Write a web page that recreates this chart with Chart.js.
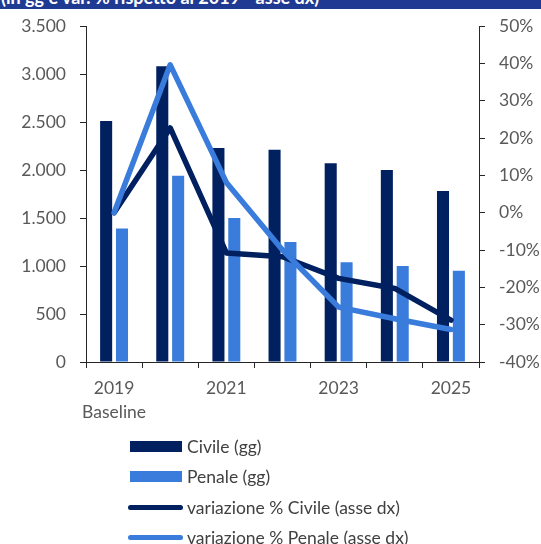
<!DOCTYPE html>
<html>
<head>
<meta charset="utf-8">
<script src="https://cdn.jsdelivr.net/npm/chart.js@4.4.1/dist/chart.umd.min.js"></script>
<style>
  html, body { margin: 0; padding: 0; background: #fff; }
  #wrap { position: relative; width: 541px; height: 544px; overflow: hidden; }
  #band { position: absolute; left: 0; top: 0; width: 541px; height: 9px; background: #1f3a93; overflow: hidden; }
  #band span { position: absolute; left: 1px; top: -12px; font: bold 18px Lato, sans-serif; line-height: 18px; color: #fff; white-space: nowrap; }
  #legend { position: absolute; left: 128px; top: 431px; font: 17.5px Lato, sans-serif; color: #404040; }
  .row { height: 30.5px; display: flex; align-items: center; white-space: nowrap; }
  .sw { width: 55px; display: flex; align-items: center; margin-right: 4px; }
  .box { width: 52px; height: 11px; margin-left: 2px; }
  .ln { width: 55px; height: 5px; border-radius: 3px; }
</style>
</head>
<body>
<div id="wrap">
  <canvas id="c" width="541" height="544"></canvas>
  <div id="band"><span>(in gg e var. % rispetto al 2019 - asse dx)</span></div>
  <div id="legend"></div>
</div>
<script>
const categories = [["2019", "Baseline"], "2020", "2021", "2022", "2023", "2024", "2025"];
const civileGG = [2510, 3080, 2230, 2210, 2070, 2000, 1780];
const penaleGG = [1390, 1940, 1500, 1250, 1040, 1000, 950];
const varCivile = [0, 22.7, -10.8, -11.8, -17.6, -20.3, -28.8];
const varPenale = [0, 39.6, 8.1, -10.0, -25.3, -28.4, -31.3];
const leftTickValues = [0, 500, 1000, 1500, 2000, 2500, 3000, 3500];
const leftTickLabels = ["0", "500", "1.000", "1.500", "2.000", "2.500", "3.000", "3.500"];
const rightTickValues = [-40, -30, -20, -10, 0, 10, 20, 30, 40, 50];
const rightTickLabels = ["-40%", "-30%", "-20%", "-10%", "0%", "10%", "20%", "30%", "40%", "50%"];
const legendLabels = ["Civile (gg)", "Penale (gg)", "variazione % Civile (asse dx)", "variazione % Penale (asse dx)"];

const DARK = "#002060";
const LIGHT = "#3a7cdb";
const AXIS = "#262626";
const TEXT = "#595959";
const tickFont = { family: "Lato", size: 17.5 };

const ctx = document.getElementById("c").getContext("2d");
const chart = new Chart(ctx, {
  type: "bar",
  data: {
    labels: categories,
    datasets: [
      { type: "bar", label: legendLabels[0], data: civileGG, backgroundColor: DARK, yAxisID: "y", order: 2,
        categoryPercentage: 0.565, barPercentage: 0.76 },
      { type: "bar", label: legendLabels[1], data: penaleGG, backgroundColor: LIGHT, yAxisID: "y", order: 2,
        categoryPercentage: 0.565, barPercentage: 0.76 },
      { type: "line", label: legendLabels[2], data: varCivile, borderColor: DARK, backgroundColor: DARK, yAxisID: "y1",
        borderWidth: 5.5, pointRadius: 0, tension: 0, borderCapStyle: "round", borderJoinStyle: "round", order: 1 },
      { type: "line", label: legendLabels[3], data: varPenale, borderColor: LIGHT, backgroundColor: LIGHT, yAxisID: "y1",
        borderWidth: 5.5, pointRadius: 0, tension: 0, borderCapStyle: "round", borderJoinStyle: "round", order: 0 }
    ]
  },
  options: {
    responsive: false,
    animation: false,
    layout: { padding: { top: 26, left: 0, right: 0, bottom: 0 } },
    plugins: { legend: { display: false }, tooltip: { enabled: false }, title: { display: false } },
    scales: {
      x: {
        offset: true,
        grid: { offset: true, drawOnChartArea: false, drawTicks: true, tickLength: 6, color: AXIS, lineWidth: 1 },
        border: { display: true, color: AXIS, width: 1 },
        ticks: {
          autoSkip: false, maxRotation: 0, minRotation: 0, color: TEXT, padding: 8,
          font: Object.assign({ lineHeight: 1.37 }, tickFont),
          callback: function (v, i) { return i % 2 === 0 ? categories[i] : ""; }
        },
        afterFit: function (s) { s.height = 182; }
      },
      y: {
        position: "left", min: 0, max: 3500,
        grid: { drawOnChartArea: false, drawTicks: true, tickLength: 6, color: AXIS, lineWidth: 1 },
        border: { display: true, color: AXIS, width: 1 },
        afterBuildTicks: function (s) { s.ticks = leftTickValues.map(v => ({ value: v })); },
        ticks: {
          color: TEXT, padding: 14, font: tickFont,
          callback: function (v) { const i = leftTickValues.indexOf(v); return i >= 0 ? leftTickLabels[i] : ""; }
        },
        afterFit: function (s) { s.width = 86; }
      },
      y1: {
        position: "right", min: -40, max: 50,
        grid: { drawOnChartArea: false, drawTicks: true, tickLength: 6, color: AXIS, lineWidth: 1 },
        border: { display: true, color: AXIS, width: 1 },
        afterBuildTicks: function (s) { s.ticks = rightTickValues.map(v => ({ value: v })); },
        ticks: {
          color: TEXT, padding: 14, font: tickFont,
          callback: function (v) { const i = rightTickValues.indexOf(v); return i >= 0 ? rightTickLabels[i] : ""; }
        },
        afterFit: function (s) { s.width = 62; }
      }
    }
  }
});

// HTML legend built from the chart's datasets (vertical list, in dataset order)
const leg = document.getElementById("legend");
chart.data.datasets.forEach(ds => {
  const row = document.createElement("div");
  row.className = "row";
  const sw = document.createElement("div");
  sw.className = "sw";
  const mark = document.createElement("div");
  if (ds.type === "bar") { mark.className = "box"; mark.style.background = ds.backgroundColor; }
  else { mark.className = "ln"; mark.style.background = ds.borderColor; }
  sw.appendChild(mark);
  const t = document.createElement("span");
  t.textContent = ds.label;
  row.appendChild(sw);
  row.appendChild(t);
  leg.appendChild(row);
});
</script>
</body>
</html>
